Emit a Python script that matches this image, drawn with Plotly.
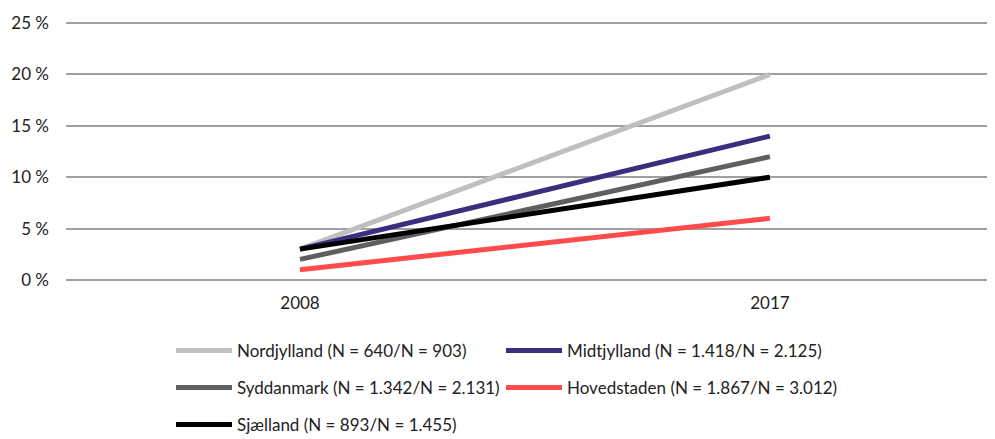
import plotly.graph_objects as go

years = ["2008", "2017"]
series_names = [
    "Nordjylland (N = 640/N = 903)",
    "Midtjylland (N = 1.418/N = 2.125)",
    "Syddanmark (N = 1.342/N = 2.131)",
    "Hovedstaden (N = 1.867/N = 3.012)",
    "Sjælland (N = 893/N = 1.455)",
]
nordjylland = [3, 20]
midtjylland = [3, 14]
syddanmark = [2, 12]
hovedstaden = [1, 6]
sjaelland = [3, 10]
ytick_vals = [0, 5, 10, 15, 20, 25]
ytick_text = ["0 %", "5 %", "10 %", "15 %", "20 %", "25 %"]

values = [nordjylland, midtjylland, syddanmark, hovedstaden, sjaelland]
colors = ["#BFBFBF", "#3A2F7F", "#5F5F5F", "#FF4B4B", "#000000"]

FONT = "Source Sans Pro, Lato, sans-serif"

# page has an 8px body margin; figure sized to fill the visible window
W, H = 987, 431
ML, MT, MB = 58, 14, 158
PH = H - MT - MB
PW = W - ML


def leg_y(page_y):
    fig_y = page_y - 8
    return (H - MB - fig_y) / PH


def leg_x(fig_x):
    return (fig_x - ML) / PW


# legend slots: (column x in figure px, row centre in page px)
slots = [(163, 351), (493, 351), (163, 388), (493, 388), (163, 425)]
legend_ids = ["legend", "legend2", "legend3", "legend4", "legend5"]

fig = go.Figure()
for name, vals, col, lg in zip(series_names, values, colors, legend_ids):
    fig.add_trace(go.Scatter(
        x=years, y=vals, mode="lines", name=name,
        line=dict(color=col, width=5),
        legend=lg,
    ))

leg_common = dict(
    orientation="h", xanchor="left", yanchor="middle", itemwidth=56,
    font=dict(family=FONT, size=17, color="#222222"),
    bgcolor="rgba(0,0,0,0)", itemclick=False, itemdoubleclick=False,
)

legends = {}
for lg, (sx, sy) in zip(legend_ids, slots):
    legends[lg] = dict(x=leg_x(sx), y=leg_y(sy), **leg_common)

fig.update_layout(
    width=W, height=H,
    margin=dict(l=ML, r=0, t=MT, b=MB, autoexpand=False),
    paper_bgcolor="white", plot_bgcolor="white",
    font=dict(family=FONT, size=17, color="#222222"),
    showlegend=True,
    xaxis=dict(
        type="category", range=[-0.498, 1.479],
        showgrid=False, zeroline=False, showline=False,
        ticks="", ticklabelstandoff=10, automargin=False,
        tickfont=dict(family=FONT, size=17, color="#222222"),
        fixedrange=True,
    ),
    yaxis=dict(
        range=[-0.1, 25.1], tickvals=ytick_vals, ticktext=ytick_text,
        showgrid=True, gridcolor="#A0A0A0", gridwidth=2,
        zeroline=False, showline=False, ticks="", automargin=False,
        ticklabelstandoff=16,
        tickfont=dict(family=FONT, size=17, color="#222222"),
        fixedrange=True,
    ),
    **legends,
)

fig.write_html("out.html")
